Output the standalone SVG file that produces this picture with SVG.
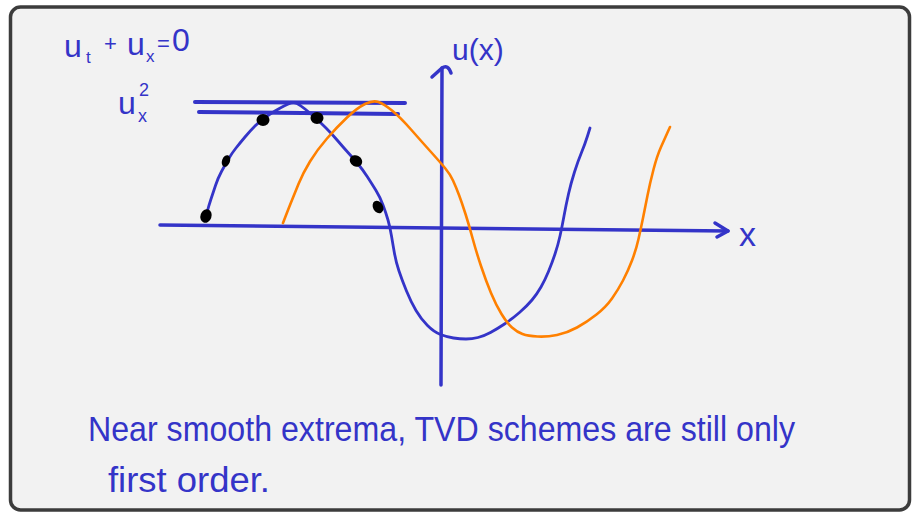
<svg xmlns="http://www.w3.org/2000/svg" width="912" height="513" viewBox="0 0 912 513">
<style>
.ink{fill:none;stroke:#3434c8;stroke-linecap:round;stroke-linejoin:round}
.or{fill:none;stroke:#ff8000;stroke-width:2.6;stroke-linecap:round;stroke-linejoin:round}
.hw{font-family:"Liberation Sans","DejaVu Sans",sans-serif;fill:#3434c8}
.dot{fill:#000}
</style>
<rect x="0" y="0" width="912" height="513" fill="#ffffff"/>
<rect x="10.5" y="7" width="899" height="503" rx="10" fill="#f2f2f2" stroke="#3c3c3c" stroke-width="3.5"/>
<g id="axes">
<path class="ink" stroke-width="3.5" d="M160,225 L728,231"/>
<path class="ink" stroke-width="3.5" d="M715,223 L728,231 L717,237"/>
<path class="ink" stroke-width="3.5" d="M441,385 L442,68"/>
<path class="ink" stroke-width="3.5" d="M432,77 L442,68 Q448,64 451,73"/>
<path class="ink" stroke-width="4" d="M195,102 L405,103"/>
<path class="ink" stroke-width="4" d="M199,112 L398,114"/>
</g>
<g id="blue-curve">
<path class="ink" stroke-width="2.8" d="M205,220 L207,212.5 Q209,205 211,199 Q213,193 215.5,185.5 Q218,178 221.5,171.5 Q225,165 228.5,159 Q232,153 236,148 Q240,143 245,137 Q250,131 255,126 Q260,121 265,117.5 Q270,114 275,111 Q280,108 284,106 Q288,104 291,103 Q294,102 297,103.5 Q300,105 305,109 Q310,113 315,117.5 Q320,122 326,128 Q332,134 337.5,140.5 Q343,147 348,152.5 Q353,158 358,164 Q363,170 367.5,177 Q372,184 376,190.5 Q380,197 383,205 Q386,213 388,220 Q390,227 391.5,236 Q393,245 394.5,253.5 Q396,262 399,271 Q402,280 406.5,291 Q411,302 416,310.5 Q421,319 427.5,325.5 Q434,332 440.5,334.5 Q447,337 453.5,338 Q460,339 466,339 Q472,339 478,337.5 Q484,336 490.5,332.5 Q497,329 504.5,324 Q512,319 519.5,312.5 Q527,306 532,300 Q537,294 541,287 Q545,280 548.5,271.5 Q552,263 555,254 Q558,245 560,236 Q562,227 564,216 Q566,205 568.5,194 Q571,183 574.5,172 Q578,161 581.5,152.5 Q585,144 587.5,136 L590,128"/>
</g>
<g id="orange-curve">
<path class="or" d="M283,223 L285.5,216.5 Q288,210 291,202.5 Q294,195 298.5,184 Q303,173 310,161.5 Q317,150 327,138.5 Q337,127 347,117.5 Q357,108 365,104 Q373,100 378.5,102 Q384,104 392,110.5 Q400,117 411,129.5 Q422,142 431,152 Q440,162 445,168 Q450,174 453,180.5 Q456,187 459,195 Q462,203 465.5,214 Q469,225 472.5,238 Q476,251 481,266 Q486,281 491,293 Q496,305 501.5,314 Q507,323 512,327.5 Q517,332 522.5,334 Q528,336 537.5,336.5 Q547,337 557,335 Q567,333 577,327.5 Q587,322 596.5,314.5 Q606,307 612,298.5 Q618,290 623,280.5 Q628,271 632,260.5 Q636,250 638.5,239 Q641,228 643,218 Q645,208 647.5,195.5 Q650,183 653.5,169.5 Q657,156 661,147 Q665,138 667.5,132.5 L670,127"/>
</g>
<g id="dots">
<ellipse class="dot" cx="206" cy="216" rx="5.5" ry="7" transform="rotate(20 206 216)"/>
<ellipse class="dot" cx="226" cy="161" rx="4" ry="6" transform="rotate(20 226 161)"/>
<ellipse class="dot" cx="263" cy="120" rx="6.5" ry="6"/>
<ellipse class="dot" cx="317" cy="118" rx="6.5" ry="6"/>
<ellipse class="dot" cx="356" cy="161" rx="6.5" ry="5.5" transform="rotate(30 356 161)"/>
<ellipse class="dot" cx="378" cy="207" rx="5" ry="6.5" transform="rotate(-30 378 207)"/>
</g>
<g id="labels">
<text class="hw" font-size="32"><tspan x="64" y="57">u</tspan><tspan x="86" y="63" font-size="17">t</tspan><tspan x="104" y="51" font-size="22">+</tspan><tspan x="127" y="55">u</tspan><tspan x="146" y="62" font-size="17">x</tspan><tspan x="157" y="51" font-size="22">=</tspan><tspan x="172" y="51" font-size="32">0</tspan></text>
<text class="hw" font-size="32"><tspan x="118" y="114">u</tspan><tspan x="139" y="96" font-size="18">2</tspan><tspan x="138" y="122" font-size="18">x</tspan></text>
<text class="hw" font-size="30" x="452" y="60">u(x)</text>
<text class="hw" font-size="34" x="739" y="246">x</text>
<text class="hw" font-size="35" x="88" y="441" textLength="707" lengthAdjust="spacingAndGlyphs">Near smooth extrema, TVD schemes are still only</text>
<text class="hw" font-size="35" x="108" y="492" textLength="162" lengthAdjust="spacingAndGlyphs">first order.</text>
</g>
</svg>
